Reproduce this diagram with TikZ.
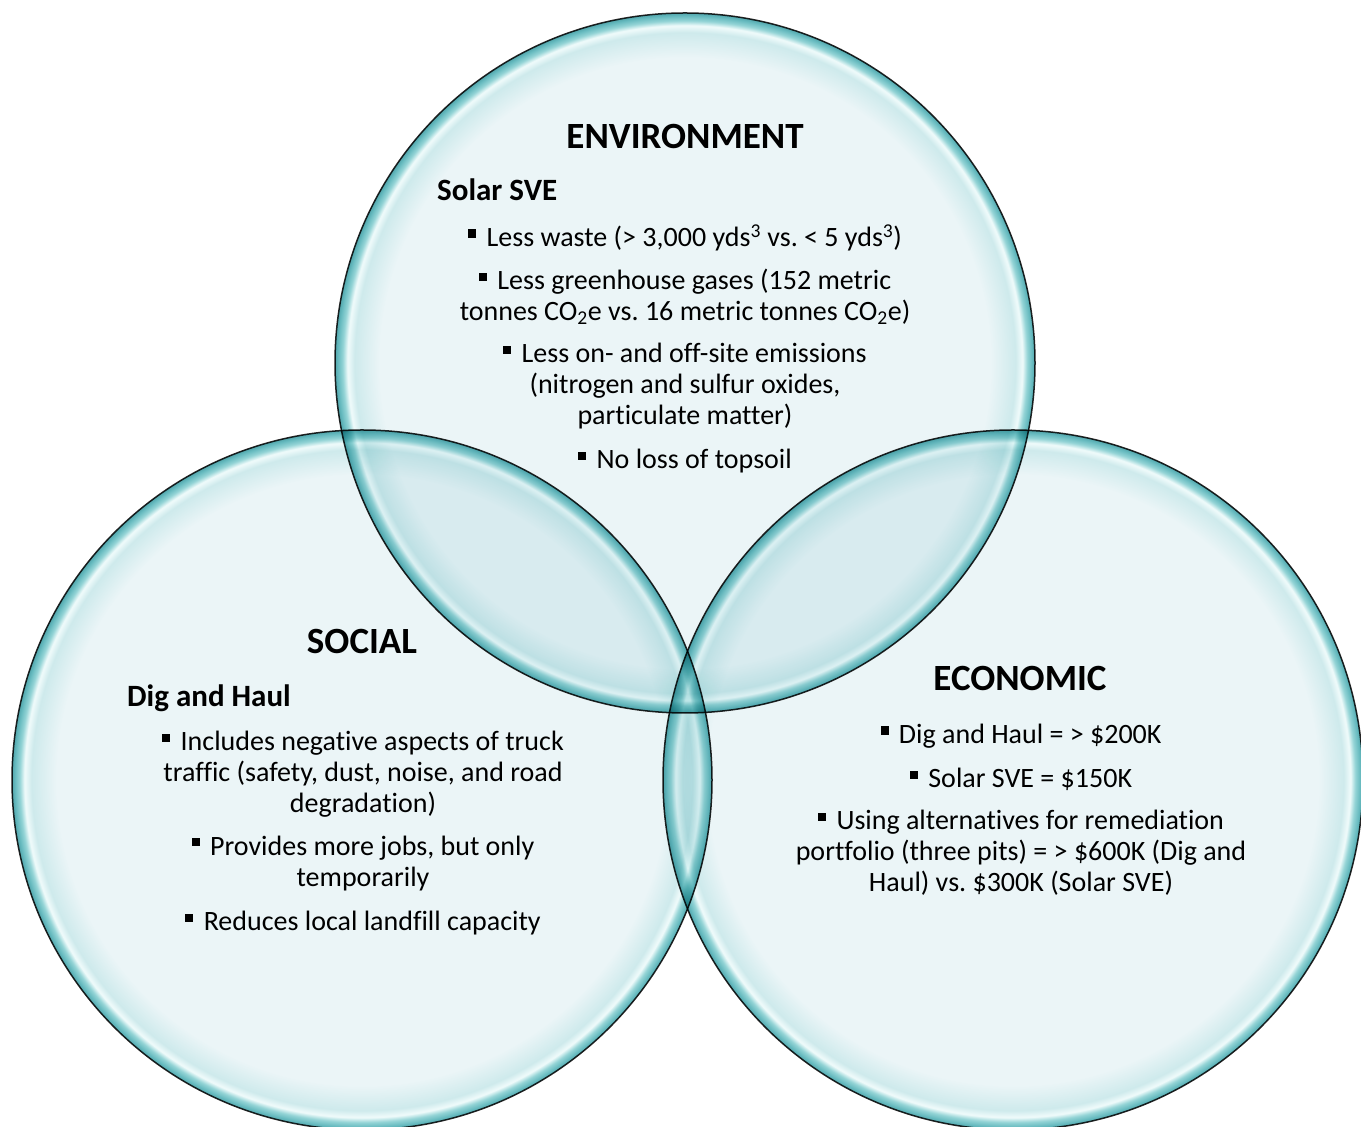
\documentclass[tikz,border=0pt]{standalone}
\usepackage{fontspec}
\setmainfont{Carlito}[RawFeature={-liga,-clig,-calt,-dlig}]
\usetikzlibrary{positioning}
\frenchspacing

\definecolor{bubcore}{RGB}{235,245,247}
\definecolor{bubsoft}{RGB}{206,234,236}
\definecolor{bubshine}{RGB}{240,251,251}
\definecolor{bubteal}{RGB}{148,212,214}
\definecolor{bubrim}{RGB}{102,186,191}
\definecolor{bubedge}{RGB}{82,165,171}

\pgfdeclareradialshading{bubble}{\pgfpointorigin}{%
  color(0bp)=(bubcore);
  color(21.8bp)=(bubcore);
  color(23.6bp)=(bubsoft);
  color(24.1bp)=(bubshine);
  color(24.45bp)=(bubteal);
  color(24.8bp)=(bubrim);
  color(25bp)=(bubedge);
  color(50bp)=(bubedge)}

\newcommand\sq{\raisebox{0.31em}{\rule{0.29em}{0.29em}}\hspace{0.37em}}

\begin{document}
\begin{tikzpicture}[x=1pt, y=1pt, node distance=13pt,
		bubble/.style = {circle, draw=black!85, line width=1.5pt, minimum size=700pt,
			inner sep=0pt, shade, shading=bubble, blend mode=multiply},
		head/.style = {font=\fontsize{37}{40}\selectfont\bfseries, anchor=base, inner sep=0pt},
		sub/.style = {font=\fontsize{31}{36}\selectfont\bfseries, anchor=base west, inner sep=0pt},
		item/.style = {font=\fontsize{28}{31}\selectfont, align=center, inner sep=0pt,
			execute at begin node=\strut, execute at end node=\strut}]
		\useasboundingbox (0,0) rectangle (1361,1127);
		\clip (0,0) rectangle (1361,1127);
		\node[bubble] (envc) at (685,764) {};
		\node[bubble] (socc) at (362,347) {};
		\node[bubble] (ecoc) at (1013,347) {};

		\node[head] (env) at (685,978) {ENVIRONMENT};
		\node[sub] (sve) at (437,926) {Solar SVE};
		\node[item, anchor=north] (e1) at (685,902.7) {\sq Less waste (> 3,000 yds\textsuperscript{3} vs. < 5 yds\textsuperscript{3})};
		\node[item, below=of e1] (e2) {\sq Less greenhouse gases (152 metric\\ tonnes CO\textsubscript{2}e vs. 16 metric tonnes CO\textsubscript{2}e)};
		\node[item, below=of e2] (e3) {\sq Less on- and off-site emissions\\ (nitrogen and sulfur oxides,\\ particulate matter)};
		\node[item, below=of e3] (e4) {\sq No loss of topsoil};

		\node[head] (soc) at (362,473) {SOCIAL};
		\node[sub] (dig) at (127,420) {Dig and Haul};
		\node[item, anchor=north] (s1) at (363,395.7) {\sq Includes negative aspects of truck\\ traffic (safety, dust, noise, and road\\ degradation)};
		\node[item, below=of s1] (s2) {\sq Provides more jobs, but only\\ temporarily};
		\node[item, below=of s2] (s3) {\sq Reduces local landfill capacity};

		\node[head] (eco) at (1020,436) {ECONOMIC};
		\node[item, anchor=north] (c1) at (1021,405.7) {\sq Dig and Haul = > \$200K};
		\node[item, below=of c1] (c2) {\sq Solar SVE = \$150K};
		\node[item, below=of c2] (c3) {\sq Using alternatives for remediation\\ portfolio (three pits) = > \$600K (Dig and\\ Haul) vs. \$300K (Solar SVE)};
	\end{tikzpicture}
\end{document}
